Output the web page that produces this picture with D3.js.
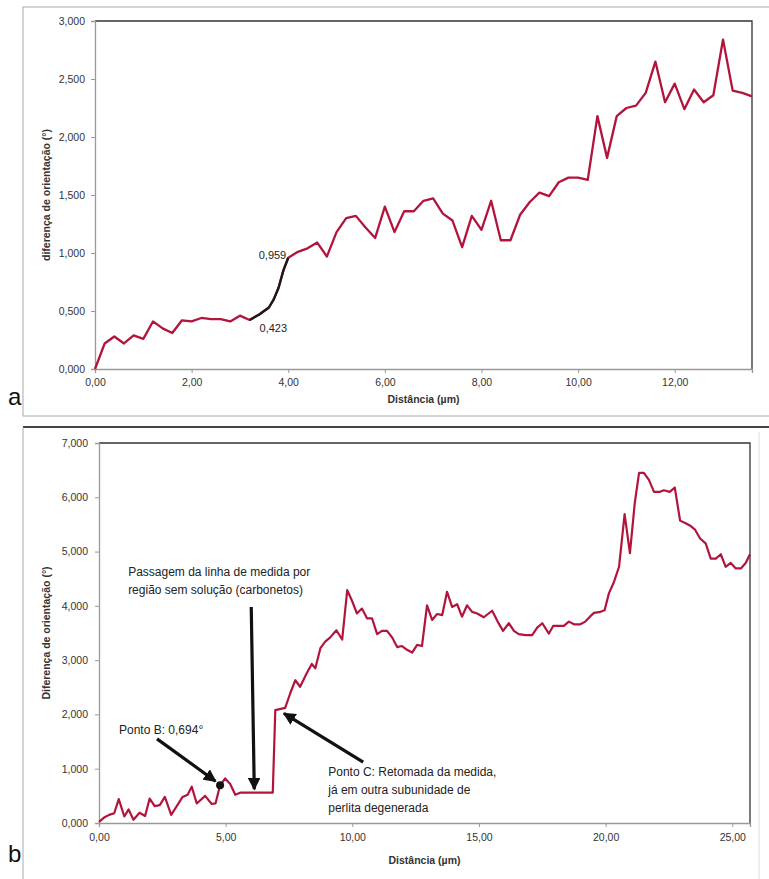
<!DOCTYPE html>
<html><head><meta charset="utf-8">
<script src="https://cdn.jsdelivr.net/npm/d3@7"></script>
<style>
body{margin:0;background:#fff;}
svg{display:block;font-family:"Liberation Sans",Arial,sans-serif;}
</style></head>
<body><svg id="c" width="769" height="879"></svg>
<script>
// ---------- data: chart a ----------
const topX = [0,0.2,0.4,0.6,0.8,1.0,1.2,1.4,1.6,1.8,2.0,2.2,2.4,2.6,2.8,3.0,3.2,3.4,3.6,3.7,3.8,3.9,4.0,4.2,4.4,4.6,4.8,5.0,5.2,5.4,5.6,5.8,6.0,6.2,6.4,6.6,6.8,7.0,7.2,7.4,7.6,7.8,8.0,8.2,8.4,8.6,8.8,9.0,9.2,9.4,9.6,9.8,10.0,10.2,10.4,10.6,10.8,11.0,11.2,11.4,11.6,11.8,12.0,12.2,12.4,12.6,12.8,13.0,13.2,13.4,13.6];
const topY = [0,0.22,0.28,0.22,0.29,0.26,0.41,0.35,0.31,0.42,0.41,0.44,0.43,0.43,0.41,0.46,0.423,0.47,0.53,0.60,0.70,0.85,0.959,1.01,1.04,1.09,0.97,1.18,1.30,1.32,1.22,1.13,1.40,1.18,1.36,1.36,1.45,1.47,1.34,1.28,1.05,1.32,1.20,1.45,1.11,1.11,1.33,1.44,1.52,1.49,1.61,1.65,1.65,1.63,2.18,1.82,2.18,2.25,2.27,2.38,2.65,2.30,2.46,2.24,2.41,2.30,2.36,2.84,2.40,2.38,2.35];
const topBlackRange = [3.2, 4.0];
const topYTicks = [0,0.5,1.0,1.5,2.0,2.5,3.0];
const topXTicks = [0,2,4,6,8,10,12];
const topLabels = [{x:4.0,y:0.959,t:"0,959"},{x:3.2,y:0.423,t:"0,423"}];

// ---------- data: chart b ----------
const botX = [0,0.2,0.4,0.6,0.78,1.0,1.17,1.36,1.6,1.82,2.0,2.2,2.4,2.6,2.85,3.07,3.3,3.5,3.66,3.86,4.19,4.45,4.6,4.78,4.98,5.18,5.38,5.6,6.86,6.96,7.35,7.55,7.75,7.94,8.2,8.4,8.54,8.74,8.93,9.13,9.37,9.6,9.8,10.0,10.18,10.38,10.58,10.78,10.98,11.17,11.37,11.57,11.77,11.96,12.16,12.36,12.56,12.75,12.95,13.15,13.35,13.55,13.74,13.94,14.14,14.33,14.53,14.73,14.93,15.19,15.52,15.74,15.95,16.18,16.38,16.57,16.84,17.1,17.3,17.5,17.76,17.93,18.35,18.55,18.75,19.0,19.2,19.4,19.54,19.8,19.96,20.13,20.33,20.53,20.75,20.96,21.15,21.32,21.51,21.71,21.91,22.15,22.3,22.53,22.73,22.94,23.16,23.36,23.52,23.73,23.95,24.15,24.35,24.55,24.74,24.94,25.14,25.34,25.53,25.7];
const botY = [0.02,0.1,0.15,0.18,0.44,0.12,0.25,0.06,0.19,0.13,0.45,0.31,0.33,0.48,0.15,0.31,0.48,0.52,0.67,0.36,0.50,0.35,0.36,0.694,0.82,0.72,0.52,0.56,0.56,2.08,2.12,2.39,2.63,2.51,2.76,2.93,2.85,3.22,3.34,3.42,3.55,3.38,4.29,4.08,3.86,3.95,3.77,3.77,3.48,3.54,3.54,3.42,3.24,3.26,3.19,3.14,3.28,3.26,4.01,3.74,3.85,3.83,4.26,3.98,4.03,3.80,4.01,3.89,3.86,3.79,3.91,3.71,3.54,3.68,3.54,3.48,3.46,3.46,3.60,3.68,3.49,3.63,3.63,3.71,3.66,3.66,3.71,3.81,3.87,3.89,3.92,4.23,4.44,4.72,5.69,4.97,5.89,6.45,6.45,6.32,6.10,6.10,6.13,6.10,6.18,5.57,5.52,5.47,5.41,5.24,5.15,4.87,4.87,4.95,4.72,4.79,4.69,4.69,4.79,4.95];
const botYTicks = [0,1,2,3,4,5,6,7];
const botXTicks = [0,5,10,15,20,25];
const pontoB = {x:4.78, y:0.694};
const botTexts = [
  {x:1.15,y:4.55,lines:["Passagem da linha de medida por","região sem solução (carbonetos)"]},
  {x:0.79,y:1.64,lines:["Ponto B: 0,694°"]},
  {x:9.05,y:0.87,lines:["Ponto C: Retomada da medida,","já em outra subunidade  de","perlita degenerada"]}
];
const botArrows = [
  {x1:6.01,y1:3.98,x2:6.13,y2:0.62},
  {x1:2.29,y1:1.55,x2:4.60,y2:0.77},
  {x1:10.43,y1:1.12,x2:7.30,y2:2.02}
];

const loc = d3.formatLocale({decimal:",",thousands:".",grouping:[3],currency:["",""]});
const f3 = loc.format(".3f"), f2 = loc.format(".2f");
const RED = "#b3143c";

const svg = d3.select("#c");
const defs = svg.append("defs");
defs.append("marker").attr("id","ah").attr("viewBox","0 0 10 10").attr("refX",9).attr("refY",5)
  .attr("markerWidth",4).attr("markerHeight",4).attr("orient","auto")
  .append("path").attr("d","M0,0 L10,5 L0,10 Z").attr("fill","#111");

// panel frames
svg.append("rect").attr("x",23).attr("y",7).attr("width",760).attr("height",409)
  .attr("fill","none").attr("stroke","#aaa").attr("stroke-width",1);
svg.append("line").attr("x1",23).attr("x2",769).attr("y1",427).attr("y2",427).attr("stroke","#444").attr("stroke-width",2);
svg.append("line").attr("x1",23).attr("x2",23).attr("y1",427).attr("y2",879).attr("stroke","#aaa");
svg.append("line").attr("x1",759).attr("x2",759).attr("y1",432).attr("y2",879).attr("stroke","#ddd");

function chart(opt){
  const {x0,x1,y0,y1,xd,yd,xs,ys,xt,yt,xtitle,ytitle,panel,panelY} = opt;
  const x = d3.scaleLinear().domain(xd).range([x0,x1]);
  const y = d3.scaleLinear().domain(yd).range([y1,y0]);
  const g = svg.append("g");
  g.append("path").attr("d",`M${x0},${y0}H${x1}V${y1}`).attr("fill","none").attr("stroke","#333").attr("stroke-width",1.3);
  const ax = g.append("g").attr("transform",`translate(0,${y1})`)
    .call(d3.axisBottom(x).tickValues(xs).tickFormat(f2).tickSize(4).tickPadding(xt));
  const ay = g.append("g").attr("transform",`translate(${x0},0)`)
    .call(d3.axisLeft(y).tickValues(ys).tickFormat(f3).tickSize(4).tickPadding(yt));
  [ax,ay].forEach(a=>{
    a.select(".domain").attr("stroke","#999").attr("stroke-width",1.3);
    a.selectAll(".tick line").attr("stroke","#999");
    a.selectAll("text").attr("fill","#333").attr("font-size",10.5).attr("font-family","Liberation Sans, Arial");
  });
  g.append("text").attr("x",(x0+x1)/2).attr("y",opt.xtY).attr("text-anchor","middle")
    .attr("font-size",10.5).attr("font-weight","bold").attr("fill","#333").text(xtitle);
  g.append("text").attr("transform",`translate(50,${(y0+y1)/2}) rotate(-90)`).attr("text-anchor","middle")
    .attr("font-size",10.5).attr("font-weight","bold").attr("fill","#333").text(ytitle);
  svg.append("text").attr("x",8).attr("y",panelY).attr("font-size",24).attr("font-family","Liberation Sans, Arial").attr("fill","#111").text(panel);
  return {x,y,g};
}

// chart a
const A = chart({x0:95,x1:752,y0:21,y1:369,xd:[0,13.6],yd:[0,3],xs:topXTicks,ys:topYTicks,xt:6,yt:6,
  xtitle:"Distância (µm)",ytitle:"diferença de orientação (°)",xtY:403,panel:"a",panelY:405});
const topPts = topX.map((d,i)=>[d,topY[i]]);
const lineA = d3.line().x(d=>A.x(d[0])).y(d=>A.y(d[1]));
A.g.append("path").attr("d",lineA(topPts)).attr("fill","none").attr("stroke",RED).attr("stroke-width",2.3).attr("stroke-linejoin","round");
A.g.append("path").attr("d",lineA(topPts.filter(d=>d[0]>=topBlackRange[0]&&d[0]<=topBlackRange[1])))
  .attr("fill","none").attr("stroke","#1a1a1a").attr("stroke-width",2.3).attr("stroke-linejoin","round");
A.g.append("text").attr("x",A.x(topLabels[0].x)-2).attr("y",A.y(topLabels[0].y)+1).attr("text-anchor","end")
  .attr("font-size",11).attr("fill","#222").text(topLabels[0].t);
A.g.append("text").attr("x",A.x(topLabels[1].x)+10).attr("y",A.y(topLabels[1].y)+12)
  .attr("font-size",11).attr("fill","#222").text(topLabels[1].t);

// chart b
const B = chart({x0:99,x1:750,y0:443,y1:823,xd:[0,25.7],yd:[0,7],xs:botXTicks,ys:botYTicks,xt:7,yt:7,
  xtitle:"Distância (µm)",ytitle:"Diferença de orientação (°)",xtY:864,panel:"b",panelY:862});
const botPts = botX.map((d,i)=>[d,botY[i]]);
const lineB = d3.line().x(d=>B.x(d[0])).y(d=>B.y(d[1]));
B.g.append("path").attr("d",lineB(botPts)).attr("fill","none").attr("stroke",RED).attr("stroke-width",2.2).attr("stroke-linejoin","round");
B.g.append("circle").attr("cx",B.x(pontoB.x)).attr("cy",B.y(pontoB.y)).attr("r",4).attr("fill","#111");
botArrows.forEach(a=>{
  B.g.append("line").attr("x1",B.x(a.x1)).attr("y1",B.y(a.y1)).attr("x2",B.x(a.x2)).attr("y2",B.y(a.y2))
    .attr("stroke","#111").attr("stroke-width",3.2).attr("marker-end","url(#ah)");
});
botTexts.forEach(t=>{
  const tx = B.g.append("text").attr("x",B.x(t.x)).attr("y",B.y(t.y)).attr("font-size",12).attr("fill","#222");
  t.lines.forEach((l,i)=>tx.append("tspan").attr("x",B.x(t.x)).attr("dy",i?18:0).text(l));
});
</script></body></html>
